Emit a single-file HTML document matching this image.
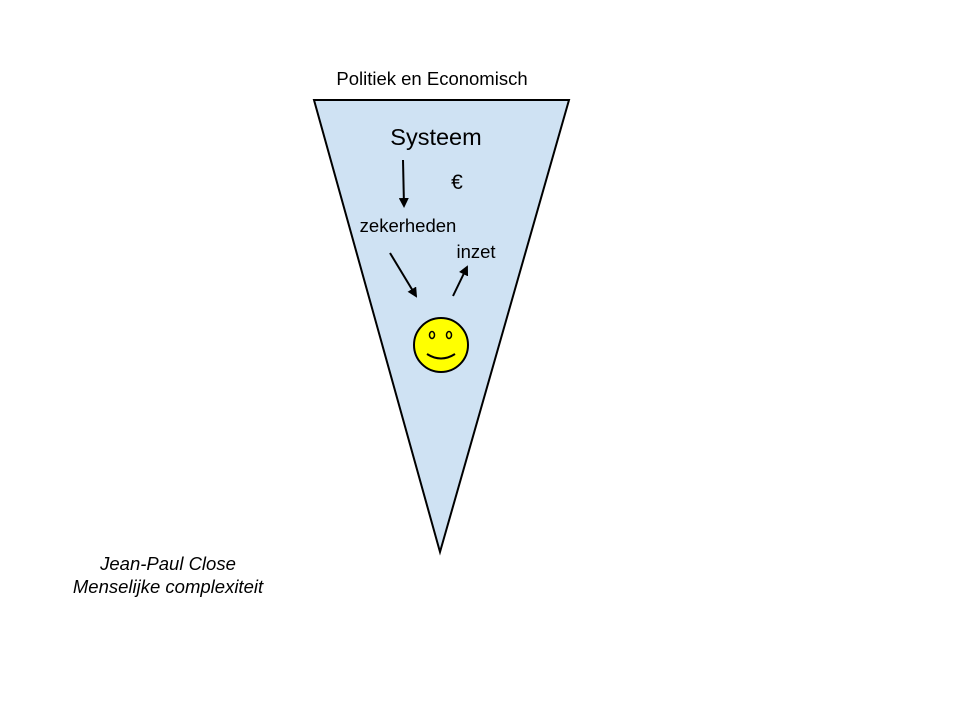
<!DOCTYPE html>
<html><head><style>
body{margin:0;background:#fff;}
svg{display:block;}
text{font-family:"Liberation Sans",Arial,sans-serif;fill:#000;}
</style></head><body>
<svg width="960" height="720" viewBox="0 0 960 720">
<defs><marker id="a" markerWidth="10" markerHeight="10" refX="8" refY="5" orient="auto" markerUnits="userSpaceOnUse"><path d="M0,0 L10,5 L0,10 z" fill="#000"/></marker></defs>
<polygon points="314,100 569,100 440,552" fill="#cfe2f3" stroke="#000" stroke-width="2"/>
<text x="432" y="85" font-size="18.5" text-anchor="middle">Politiek en Economisch</text>
<text x="436" y="145" font-size="23.5" text-anchor="middle">Systeem</text>
<text x="457" y="189" font-size="21" text-anchor="middle">€</text>
<text x="408" y="232" font-size="18.5" text-anchor="middle">zekerheden</text>
<text x="476" y="258" font-size="18.5" text-anchor="middle">inzet</text>
<line x1="403" y1="160" x2="404" y2="206" stroke="#000" stroke-width="2" marker-end="url(#a)"/>
<line x1="390" y1="253" x2="416" y2="296" stroke="#000" stroke-width="2" marker-end="url(#a)"/>
<line x1="453" y1="296" x2="467" y2="267" stroke="#000" stroke-width="2" marker-end="url(#a)"/>
<circle cx="441" cy="345" r="27" fill="#ffff00" stroke="#000" stroke-width="2"/>
<ellipse cx="432" cy="335" rx="2.5" ry="3.5" fill="none" stroke="#000" stroke-width="1.5"/>
<ellipse cx="449" cy="335" rx="2.5" ry="3.5" fill="none" stroke="#000" stroke-width="1.5"/>
<path d="M427,354 Q441,363 455,354" fill="none" stroke="#000" stroke-width="2"/>
<text x="168" y="570" font-size="18.5" font-style="italic" text-anchor="middle">Jean-Paul Close</text>
<text x="168" y="593" font-size="18.5" font-style="italic" text-anchor="middle">Menselijke complexiteit</text>
</svg>
</body></html>
